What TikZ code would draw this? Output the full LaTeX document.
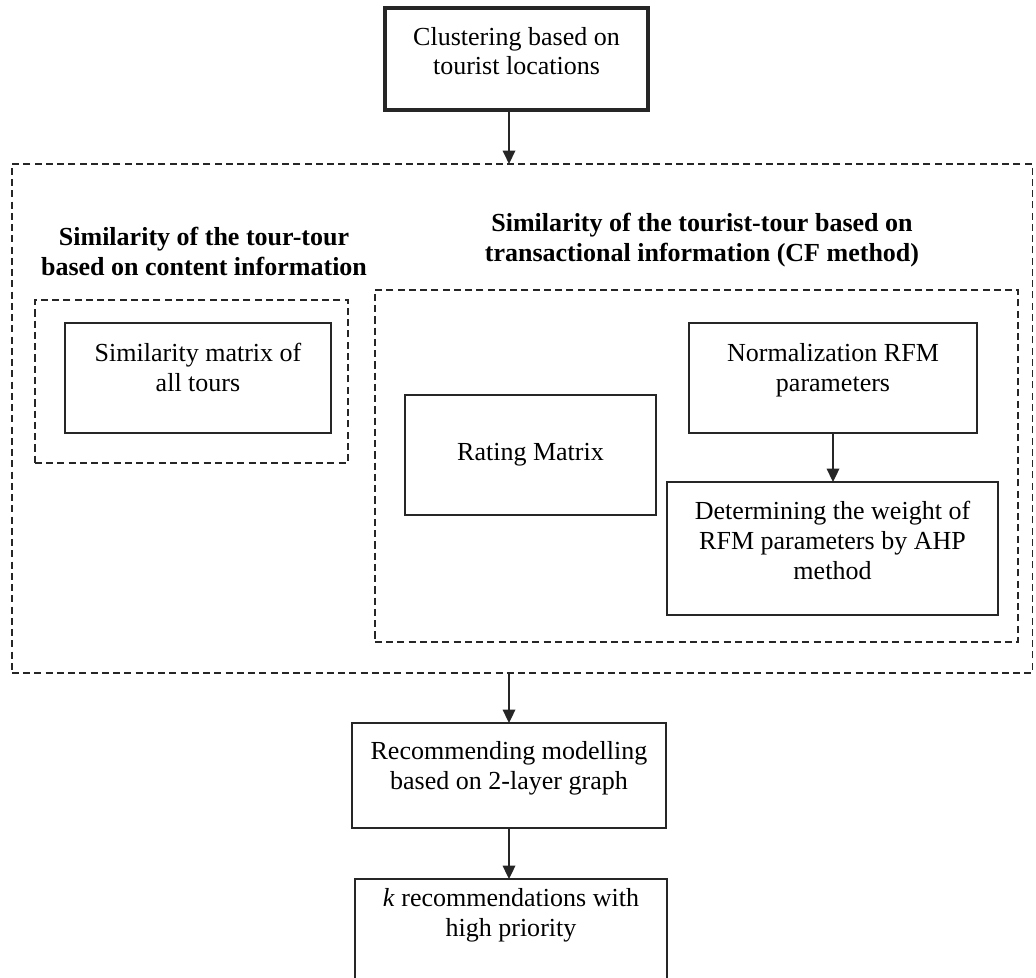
\documentclass[tikz,border=0pt]{standalone}
\usepackage{fontspec}
\setmainfont{Liberation Serif}
\usetikzlibrary{arrows.meta}
\newcommand{\padbelow}[1]{\rule[-#1]{0pt}{#1}}
\begin{document}
\begin{tikzpicture}[x=0.025cm, y=-0.025cm,
  every node/.style={align=center, font=\fontsize{18.5}{21.3}\selectfont, inner sep=0pt, outer sep=0pt},
  box/.style={draw=black!85, line width=0.9pt},
  group/.style={draw=black!85, line width=0.9pt, dash pattern=on 5pt off 3pt},
  heading/.style={font=\fontsize{18.5}{21.3}\selectfont\bfseries},
  arr/.style={draw=black!85, line width=0.9pt, -{Triangle[length=9.5pt,width=9pt]}}]
  \useasboundingbox (0,0) rectangle (1036,977);
  \clip (0,0) rectangle (1036,977);
  % top step
  \node[draw=black!85, line width=2.4pt, minimum width=6.575cm, minimum height=2.55cm] (clust) at (516.5,59) {Clustering based on\\tourist locations\padbelow{0.4cm}};
  % outer group
  \node[group, minimum width=25.5cm, minimum height=12.725cm] (outer) at (522,418.5) {};
  % left group
  \node[heading] (lefthead) at (204,251) {Similarity of the tour-tour\\based on content information};
  \node[group, minimum width=7.825cm, minimum height=4.075cm] (leftgrp) at (191.5,381.5) {};
  \node[box, minimum width=6.65cm, minimum height=2.75cm] (simmat) at (198,378) {Similarity matrix of\\all tours\padbelow{0.55cm}};
  % right group
  \node[heading] (righthead) at (702,240) {Similarity of the tourist-tour based on\\transactional information (CF method)};
  \node[group, minimum width=16.075cm, minimum height=8.8cm] (rightgrp) at (696.5,466) {};
  \node[box, minimum width=6.275cm, minimum height=3cm] (rating) at (530.5,455) {Rating Matrix};
  \node[box, minimum width=7.2cm, minimum height=2.75cm] (norm) at (833,378) {Normalization RFM\\parameters\padbelow{0.52cm}};
  \node[box, minimum width=8.275cm, minimum height=3.325cm] (deter) at (832.5,548.5) {Determining the weight of\\RFM parameters by AHP\\method\padbelow{0.42cm}};
  % bottom steps
  \node[box, minimum width=7.85cm, minimum height=2.625cm] (recom) at (509,775.5) {Recommending modelling\\based on 2-layer graph\padbelow{0.52cm}};
  \node[box, minimum width=7.8cm, minimum height=2.75cm] (krec) at (511,934) {\textit{k} recommendations with\\high priority\padbelow{1.07cm}};
  \draw[arr] (clust.south -| recom.north) -- (outer.north -| recom.north);
  \draw[arr] (norm.south) -- (norm.south |- deter.north);
  \draw[arr] (outer.south -| recom.north) -- (recom.north);
  \draw[arr] (recom.south) -- (krec.north -| recom.south);
\end{tikzpicture}
\end{document}
